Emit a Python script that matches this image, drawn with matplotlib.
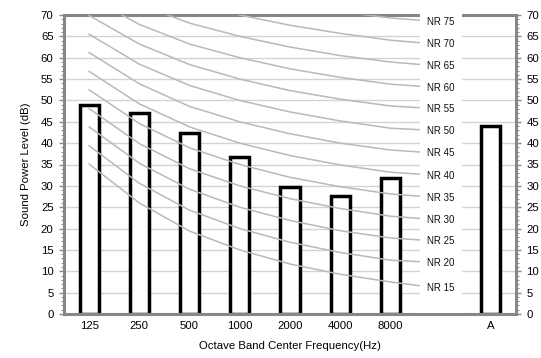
import matplotlib
matplotlib.use("Agg")
import matplotlib.pyplot as plt
import numpy as np
from matplotlib.patches import Rectangle
from matplotlib.ticker import MultipleLocator

plt.rcParams["font.family"] = ["Liberation Sans", "DejaVu Sans"]

# octave bands (slot 7 is left empty for the NR labels)
bands = ["125", "250", "500", "1000", "2000", "4000", "8000", "", "A"]
levels = [49, 47, 42.3, 36.8, 29.8, 27.6, 31.8, None, 43.9]

# NR curves at 125 ... 8000 Hz, last value is where the label sits
nr_names = [15, 20, 25, 30, 35, 40, 45, 50, 55, 60, 65, 70, 75]
nr_curves = [
    [35.1, 26.0, 19.4, 15.0, 11.7, 9.3, 7.5, 6.0],
    [39.4, 30.6, 24.3, 20.0, 16.8, 14.4, 12.6, 12.0],
    [43.8, 35.3, 29.2, 25.0, 21.9, 19.5, 17.8, 17.0],
    [48.1, 39.9, 34.0, 30.0, 27.0, 24.7, 22.9, 22.0],
    [52.5, 44.6, 38.9, 35.0, 32.0, 29.8, 28.1, 27.2],
    [56.8, 49.2, 43.8, 40.0, 37.1, 34.9, 33.2, 32.4],
    [61.2, 53.9, 48.6, 45.0, 42.2, 40.0, 38.4, 37.6],
    [65.5, 58.5, 53.5, 50.0, 47.3, 45.2, 43.5, 42.9],
    [69.9, 63.2, 58.4, 55.0, 52.3, 50.3, 48.7, 48.0],
    [74.2, 67.8, 63.2, 60.0, 57.4, 55.4, 53.8, 53.0],
    [78.6, 72.5, 68.1, 65.0, 62.5, 60.5, 59.0, 58.0],
    [82.9, 77.1, 73.0, 70.0, 67.6, 65.7, 64.1, 63.1],
    [87.3, 81.8, 77.9, 75.0, 72.6, 70.8, 69.3, 68.4],
]

fig = plt.figure(figsize=(5.41, 3.58), dpi=100)
ax = fig.add_axes([64 / 541, 1 - 314 / 358, 452 / 541, 299 / 358])

x = np.arange(len(bands))
bar_x = [i for i, v in enumerate(levels) if v is not None]
bar_v = [v for v in levels if v is not None]
ax.bar(bar_x, bar_v, width=0.38, color="white", edgecolor="black",
       linewidth=2.5, zorder=2)

for name, curve in zip(nr_names, nr_curves):
    ax.plot(x[:len(curve)], curve, color="#b9b9b9", linewidth=1.1, zorder=3)
    ax.text(7, curve[-1], f"NR {name}", ha="center", va="center",
            fontsize=7, color="#111111", zorder=6)

# white column behind the NR labels
ax.add_patch(Rectangle((6.59, 0.3), 0.84, 70.5, facecolor="white",
                       edgecolor="none", zorder=5, clip_on=False))

ax.set_xlim(-0.5, 8.5)
ax.set_ylim(0, 70)
ax.set_xticks(x)
ax.set_xticklabels(bands)
ax.yaxis.set_major_locator(MultipleLocator(5))
ax.yaxis.set_minor_locator(MultipleLocator(1))
ax.grid(axis="y", color="#d3d3d3", linewidth=1.0, zorder=0)
ax.set_axisbelow(True)

ax.tick_params(axis="x", length=0, labelsize=8.2, pad=5)
ax.tick_params(axis="y", which="both", left=True, right=True,
               labelleft=True, labelright=True, labelsize=8.2,
               color="#888888", pad=4)
ax.tick_params(axis="y", which="major", length=3.5, width=1)
ax.tick_params(axis="y", which="minor", length=2.5, width=0.7)

for s in ax.spines.values():
    s.set_color("#878787")
    s.set_linewidth(2.2)

ax.set_xlabel("Octave Band Center Frequency(Hz)", fontsize=8.2, labelpad=7)
ax.set_ylabel("Sound Power Level (dB)", fontsize=8.2, labelpad=7)

fig.savefig("out.png", dpi=100)
